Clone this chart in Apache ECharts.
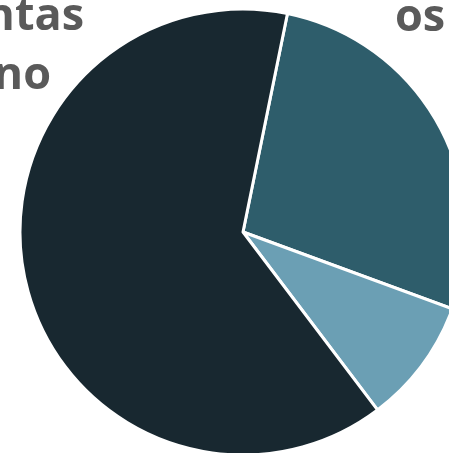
<!DOCTYPE html>
<html>
<head>
<meta charset="utf-8">
<script src="https://cdn.jsdelivr.net/npm/echarts@6/dist/echarts.min.js"></script>
<style>
html,body{margin:0;padding:0;background:#fff;}
#chart{width:449px;height:453px;}
</style>
</head>
<body>
<div id="chart"></div>
<script>
const categories = ['Teal', 'Light', 'Dark'];
const values = [27.4, 9.1, 63.5];
const colors = ['#2e5d6b', '#6b9fb4', '#182830'];
const textFragments = ['ntas', 'no', 'os'];

const chart = echarts.init(document.getElementById('chart'), null, {renderer: 'canvas'});
const textStyleBase = {fill: '#5a5a5a', fontFamily: 'Open Sans', fontWeight: 'bold', fontSize: 45, textVerticalAlign: 'bottom'};
chart.setOption({
  animation: false,
  backgroundColor: '#ffffff',
  series: [{
    type: 'pie',
    center: [243, 232],
    radius: [0, 223],
    startAngle: 78.5,
    clockwise: true,
    label: {show: false},
    labelLine: {show: false},
    itemStyle: {borderColor: '#ffffff', borderWidth: 3},
    emphasis: {disabled: true},
    data: categories.map((c, i) => ({name: c, value: values[i], itemStyle: {color: colors[i]}}))
  }],
  graphic: [
    {type: 'text', x: 84, y: 40, style: Object.assign({}, textStyleBase, {text: textFragments[0], textAlign: 'right'})},
    {type: 'text', x: 51, y: 99, style: Object.assign({}, textStyleBase, {text: textFragments[1], textAlign: 'right'})},
    {type: 'text', x: 395, y: 41, style: Object.assign({}, textStyleBase, {text: textFragments[2], textAlign: 'left'})}
  ]
});
</script>
</body>
</html>
